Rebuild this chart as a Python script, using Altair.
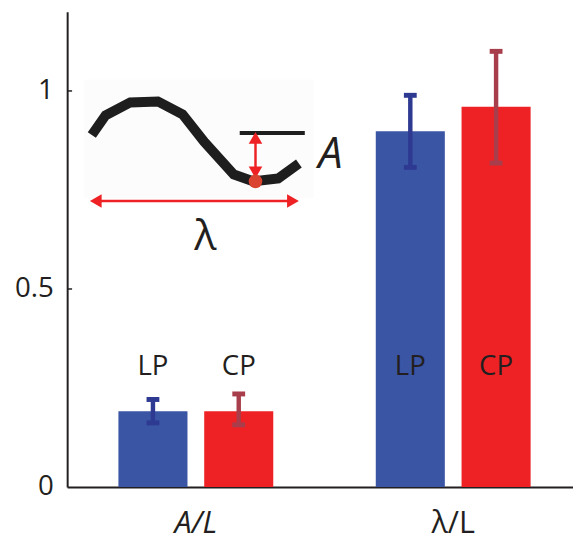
import altair as alt
import pandas as pd

# ---- data ----
groups = ["A/L", "A/L", "λ/L", "λ/L"]
polar = ["LP", "CP", "LP", "CP"]
means = [0.191, 0.191, 0.898, 0.960]
err_lo = [0.162, 0.157, 0.807, 0.818]
err_hi = [0.221, 0.235, 0.989, 1.100]
group_order = ["A/L", "λ/L"]
pol_order = ["LP", "CP"]
y_ticks = [0, 0.5, 1]

# schematic inset (drawn in its own unit system)
wave_x = [25, 39, 64, 92, 117, 139, 169, 189, 214, 235]
wave_y = [125, 105, 92, 91, 104, 132, 165, 172, 169, 154]
ref_line_x = [175, 241]
ref_line_y = [123, 123]
lam_arrow_x = [29, 229]
lam_arrow_y = [192, 192]
amp_arrow_x = [191, 191]
amp_arrow_y = [128, 163]
dot_x = [191]
dot_y = [172]
inset_labels = ["A", "λ"]
inset_label_x = [267, 140]
inset_label_y = [145, 229]
inset_label_style = ["italic", "normal"]
box = dict(x=[17], x2=[250], y=[69], y2=[189])

FONT = "Open Sans"
TXT = "#231F20"
bar_colors = ["#3A55A4", "#EE2224"]
err_colors = ["#2E3A92", "#A83E4B"]

df = pd.DataFrame(dict(group=groups, pol=polar, mean=means, lo=err_lo, hi=err_hi))

X_AXIS = alt.Axis(title=None, labelAngle=0, labelFont=FONT, labelFontSize=31,
                  labelColor=TXT, labelPadding=22, ticks=False,
                  domainColor=TXT, domainWidth=2,
                  labelFontStyle={"condition": {"test": "datum.value == 'A/L'", "value": "italic"},
                                  "value": "normal"})
Y_AXIS = alt.Axis(title=None, values=y_ticks, format="~g", labelFont=FONT,
                  labelFontSize=28, labelColor=TXT, labelPadding=14, ticks=False,
                  grid=False, domainColor=TXT, domainWidth=2)
xsc = alt.Scale(domain=group_order, range=[0, 522], paddingInner=0, paddingOuter=0)
ysc = alt.Scale(domain=[0, 1.2], nice=False, zero=True)


def XM():
    return alt.X("group:N", sort=group_order, scale=xsc, axis=X_AXIS)


def YM(f):
    return alt.Y(f, type="quantitative", scale=ysc, axis=Y_AXIS)


xo = alt.XOffset("pol:N", sort=pol_order,
                 scale=alt.Scale(domain=pol_order, paddingInner=0.195, paddingOuter=0.5975))

base = alt.Chart(df)
bars = base.mark_bar().encode(
    x=XM(), xOffset=xo, y=YM("mean"),
    color=alt.Color("pol:N", scale=alt.Scale(domain=pol_order, range=bar_colors), legend=None),
)
ecol = alt.Color("pol:N", scale=alt.Scale(domain=pol_order, range=err_colors), legend=None)
stems = base.mark_rule(strokeWidth=4.5).encode(
    x=XM(), xOffset=xo, y=YM("lo"), y2="hi:Q", color=ecol)
cap_hi = base.mark_tick(size=13, thickness=5, opacity=1).encode(
    x=XM(), xOffset=xo, y=YM("hi"), color=ecol)
cap_lo = base.mark_tick(size=13, thickness=5, opacity=1).encode(
    x=XM(), xOffset=xo, y=YM("lo"), color=ecol)
errs = alt.layer(stems, cap_hi, cap_lo)
labels = base.mark_text(font=FONT, fontSize=28, color=TXT).encode(
    x=XM(), xOffset=xo, y=alt.value(360), text="pol:N")
tick_df = pd.DataFrame(dict(v=y_ticks[1:]))
ticks = alt.Chart(tick_df).mark_rule(color=TXT, strokeWidth=1.5).encode(
    y=YM("v"), x=alt.value(0), x2=alt.value(5))

main = alt.layer(bars, errs, labels, ticks).resolve_scale(color="independent")

# ---- inset ----
isx = alt.Scale(domain=[0, 513], nice=False, zero=False)
isy = alt.Scale(domain=[0, 482], nice=False, zero=False, reverse=True)


def XI(f):
    return alt.X(f, type="quantitative", scale=isx, axis=None)


def YI(f):
    return alt.Y(f, type="quantitative", scale=isy, axis=None)


bg = alt.Chart(pd.DataFrame(box)).mark_rect(fill="#FCFCFC").encode(
    x=XI("x"), x2="x2", y=YI("y"), y2="y2")
wave = alt.Chart(pd.DataFrame(dict(x=wave_x, y=wave_y, o=list(range(len(wave_x)))))).mark_line(
    color="#1E1E1E", strokeWidth=10, strokeJoin="miter", strokeCap="butt").encode(
    x=XI("x"), y=YI("y"), order="o:Q")
refl = alt.Chart(pd.DataFrame(dict(x=ref_line_x, y=ref_line_y))).mark_line(
    color="#1E1E1E", strokeWidth=4).encode(x=XI("x"), y=YI("y"))
laml = alt.Chart(pd.DataFrame(dict(x=lam_arrow_x, y=lam_arrow_y))).mark_line(
    color="#EE2224", strokeWidth=2.5).encode(x=XI("x"), y=YI("y"))
ampl = alt.Chart(pd.DataFrame(dict(x=amp_arrow_x, y=amp_arrow_y))).mark_line(
    color="#EE2224", strokeWidth=2.5).encode(x=XI("x"), y=YI("y"))
heads = alt.Chart(pd.DataFrame(dict(
    x=lam_arrow_x + amp_arrow_x,
    y=lam_arrow_y + amp_arrow_y,
    s=["triangle-left", "triangle-right", "triangle-up", "triangle-down"]))).mark_point(
    filled=True, color="#EE2224", opacity=1, size=190).encode(
    x=XI("x"), y=YI("y"),
    shape=alt.Shape("s:N", scale=None, legend=None))
dot = alt.Chart(pd.DataFrame(dict(x=dot_x, y=dot_y))).mark_circle(
    color="#D9432F", opacity=1, size=190).encode(x=XI("x"), y=YI("y"))
itext_df = pd.DataFrame(dict(t=inset_labels, x=inset_label_x, y=inset_label_y, st=inset_label_style))
itext_a = alt.Chart(itext_df[itext_df.st == "italic"]).mark_text(
    font=FONT, fontSize=44, fontStyle="italic", color=TXT).encode(x=XI("x"), y=YI("y"), text="t:N")
itext_l = alt.Chart(itext_df[itext_df.st == "normal"]).mark_text(
    font=FONT, fontSize=42, color=TXT).encode(x=XI("x"), y=YI("y"), text="t:N")

inset = alt.layer(bg, wave, refl, laml, ampl, heads, dot, itext_a, itext_l)

chart = alt.layer(main, inset).resolve_scale(
    x="independent", y="independent", color="independent"
).properties(
    width=513, height=482,
    autosize=alt.AutoSizeParams(type="none"),
    padding={"left": 60, "top": 0, "right": 0, "bottom": 55},
).configure_view(stroke=None)

chart.save("out.html", embed_options={"renderer": "svg", "actions": False})
